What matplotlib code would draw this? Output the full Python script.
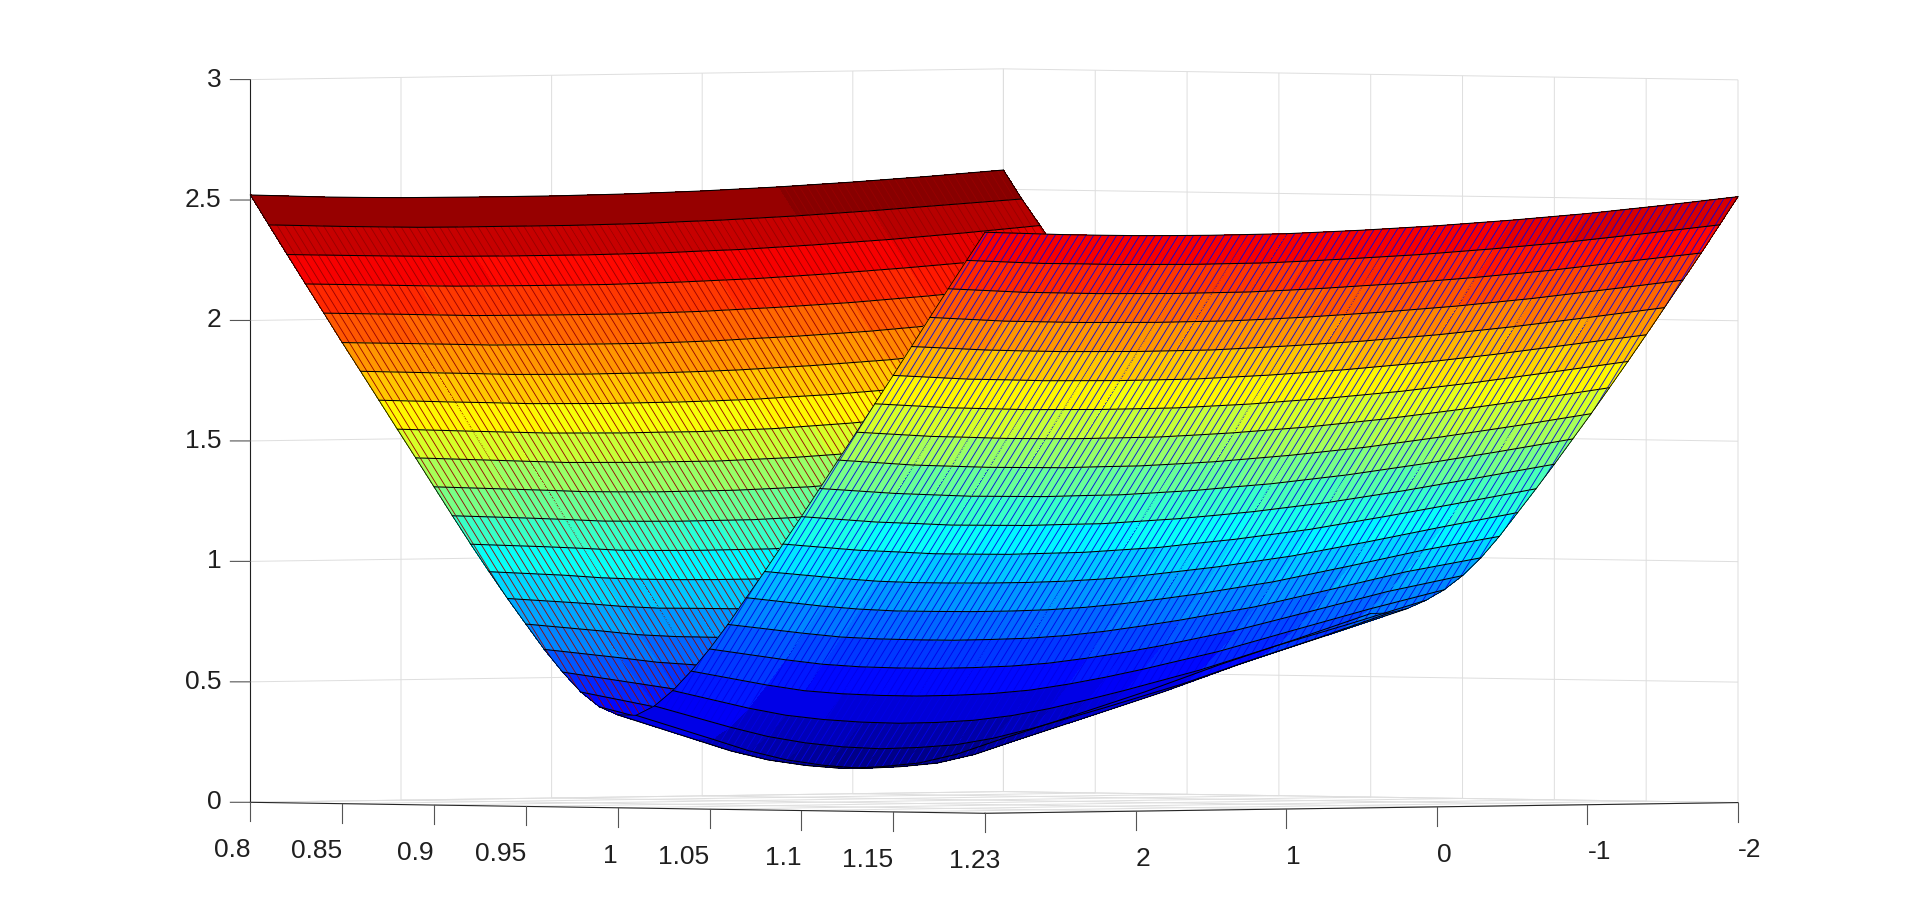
import numpy as np
import matplotlib
matplotlib.use("Agg")
import matplotlib.pyplot as plt
import matplotlib.hatch as mhatch
from matplotlib.colors import ListedColormap, Normalize
from matplotlib.path import Path
from matplotlib.ticker import NullFormatter
from mpl_toolkits.mplot3d import proj3d

# ---------- data ----------
x_nodes = [0.80,0.81,0.82,0.83,0.84,0.85,0.86,0.87,0.88,0.89,0.90,0.91,0.92,0.93,0.94,0.95,0.96,0.97,0.98,0.99,1.00,
           1.01,1.02,1.03,1.04,1.05,1.06,1.07,1.08,1.09,1.10,1.11,1.12,1.13,1.14,1.15,1.16,1.17,1.18,1.19,1.20]
y_nodes = [3, 2.5, 2.25, 2, 1.75, 1.5, 1.25, 1, 0.75, 0.5, 0.25, 0, -0.5, -1, -1.5, -2]

z_y3 = [2.521,2.398,2.276,2.155,2.035,1.914,1.796,1.677,1.558,1.440,1.321,1.202,1.085,.972,.862,.757,.653,.560,.478,.418,.386,
        .385,.425,.490,.572,.665,.768,.880,.990,1.105,1.220,1.338,1.457,1.574,1.693,1.812,1.933,2.055,2.175,2.294,2.412]
z_y250 = [2.508,2.387,2.267,2.146,2.026,1.905,1.785,1.665,1.545,1.426,1.307,1.188,1.070,.953,.838,.724,.614,.508,.411,.332,.282,
          .283,.333,.413,.510,.616,.727,.841,.957,1.075,1.193,1.313,1.432,1.552,1.672,1.792,1.914,2.035,2.156,2.277,2.398]
z_y225 = [2.504,2.383,2.263,2.141,2.021,1.900,1.780,1.660,1.539,1.419,1.300,1.180,1.061,.940,.823,.706,.593,.482,.380,.291,.230,
          .231,.292,.381,.484,.595,.709,.826,.943,1.066,1.185,1.305,1.425,1.546,1.666,1.787,1.908,2.030,2.151,2.273,2.393]
z_y200 = [2.501,2.379,2.259,2.137,2.016,1.895,1.774,1.654,1.533,1.412,1.292,1.171,1.051,.932,.813,.696,.580,.467,.360,.262,.190,
          .191,.263,.361,.469,.582,.699,.816,.935,1.056,1.176,1.297,1.418,1.539,1.660,1.781,1.903,2.025,2.146,2.268,2.389]
z_y175 = [2.500,2.378,2.258,2.136,2.015,1.894,1.772,1.652,1.531,1.410,1.289,1.168,1.048,.928,.810,.691,.573,.458,.347,.243,.165,
          .166,.244,.348,.460,.575,.693,.812,.931,1.052,1.173,1.294,1.415,1.536,1.658,1.779,1.901,2.023,2.144,2.266,2.387]
z_y150 = [2.499,2.378,2.257,2.135,2.014,1.893,1.771,1.650,1.529,1.408,1.287,1.166,1.046,.926,.806,.687,.569,.453,.340,.233,.150,
          .151,.234,.341,.455,.571,.689,.809,.929,1.049,1.170,1.291,1.412,1.534,1.656,1.777,1.899,2.021,2.142,2.264,2.386]
z_y125 = [2.499,2.378,2.257,2.135,2.014,1.893,1.772,1.651,1.530,1.409,1.288,1.167,1.047,.926,.807,.688,.570,.454,.341,.236,.155,
          .156,.237,.342,.456,.572,.690,.809,.929,1.051,1.172,1.293,1.414,1.535,1.657,1.778,1.900,2.022,2.143,2.265,2.387]
z_y100 = [2.499,2.378,2.257,2.135,2.014,1.893,1.772,1.652,1.530,1.409,1.289,1.168,1.048,.929,.809,.690,.574,.459,.348,.245,.168,
          .169,.246,.349,.461,.576,.693,.812,.932,1.053,1.173,1.294,1.415,1.536,1.658,1.779,1.901,2.023,2.144,2.266,2.388]
z_y075 = [2.501,2.380,2.259,2.138,2.017,1.896,1.775,1.655,1.534,1.414,1.294,1.174,1.055,.935,.816,.698,.584,.471,.365,.270,.202,
          .203,.271,.366,.473,.586,.702,.820,.939,1.061,1.181,1.301,1.421,1.542,1.664,1.785,1.907,2.028,2.149,2.271,2.393]
z_y050 = [2.503,2.382,2.261,2.141,2.020,1.900,1.779,1.659,1.538,1.419,1.299,1.181,1.062,.944,.827,.713,.600,.492,.391,.307,.253,
          .254,.308,.393,.495,.604,.717,.833,.950,1.069,1.189,1.308,1.428,1.549,1.670,1.791,1.913,2.034,2.155,2.277,2.398]
z_y025 = [2.507,2.387,2.266,2.146,2.026,1.907,1.786,1.667,1.547,1.428,1.310,1.193,1.075,.958,.844,.731,.622,.518,.425,.349,.302,
          .303,.350,.427,.522,.626,.737,.850,.966,1.084,1.201,1.320,1.439,1.559,1.680,1.800,1.921,2.042,2.163,2.284,2.405]
z_y000 = [2.511,2.391,2.270,2.151,2.032,1.913,1.793,1.674,1.556,1.437,1.320,1.204,1.088,.974,.862,.753,.647,.549,.462,.391,.351,
          .352,.393,.464,.553,.652,.759,.869,.982,1.098,1.214,1.331,1.450,1.569,1.689,1.809,1.929,2.050,2.170,2.291,2.412]
z_ym05 = [2.523,2.404,2.285,2.167,2.048,1.930,1.812,1.695,1.579,1.463,1.348,1.235,1.123,1.013,.906,.803,.705,.617,.540,.482,.450,
          .451,.484,.544,.622,.712,.810,.915,1.023,1.135,1.248,1.363,1.479,1.597,1.714,1.833,1.951,2.071,2.191,2.311,2.431]
z_ym10 = [2.539,2.421,2.303,2.187,2.070,1.954,1.839,1.724,1.611,1.498,1.386,1.276,1.169,1.065,.964,.868,.779,.700,.635,.586,.559,
          .560,.588,.639,.706,.787,.877,.975,1.077,1.184,1.292,1.404,1.517,1.632,1.747,1.864,1.980,2.098,2.216,2.335,2.454]
z_ym15 = [2.558,2.441,2.326,2.210,2.096,1.981,1.869,1.756,1.645,1.535,1.427,1.322,1.218,1.119,1.024,.935,.853,.781,.723,.681,.659,
          .660,.685,.728,.789,.863,.946,1.038,1.135,1.236,1.342,1.450,1.559,1.671,1.785,1.900,2.014,2.131,2.248,2.365,2.483]
z_ym20 = [2.580,2.461,2.352,2.240,2.130,2.020,1.910,1.800,1.690,1.580,1.470,1.365,1.260,1.160,1.070,.985,.915,.855,.810,.780,.762,
          .765,.785,.820,.865,.925,1.000,1.090,1.190,1.290,1.393,1.499,1.605,1.714,1.824,1.936,2.050,2.165,2.279,2.397,2.515]

x_ticks = [0.80, 0.85, 0.90, 0.95, 1.00, 1.05, 1.10, 1.15, 1.20]
x_tick_labels = ['0.8', '0.85', '0.9', '0.95', '1', '1.05', '1.1', '1.15', '1.23']
y_ticks = [2, 1, 0, -1, -2]
y_tick_labels = ['2', '1', '0', '-1', '-2']
z_ticks = [0, 0.5, 1, 1.5, 2, 2.5, 3]
z_tick_labels = ['0', '0.5', '1', '1.5', '2', '2.5', '3']

# ---------- style: slanted fine mesh hatching ----------
_run, _rise = 8, 13
_ts = sorted({k / _run for k in range(_run + 1)} | {k / _rise for k in range(_rise + 1)})
_segs = []
for a, b in zip(_ts[:-1], _ts[1:]):
    m = (a + b) / 2
    ox, oy = np.floor(m * _run), np.floor(m * _rise)
    _segs.append([(a * _run - ox, a * _rise - oy), (b * _run - ox, b * _rise - oy)])
_segs = np.array(_segs).reshape(-1, 2)


class _Slant(mhatch.HatchPatternBase):
    char = '/'
    mirror = False

    def __init__(self, hatch, density):
        self.num_lines = hatch.count(self.char)
        self.num_vertices = len(_segs) if self.num_lines else 0

    def set_vertices_and_codes(self, vertices, codes):
        v = _segs.copy()
        if self.mirror:
            v[:, 0] = 1 - v[:, 0]
        vertices[:] = v
        codes[0::2] = Path.MOVETO
        codes[1::2] = Path.LINETO


class _SlantBack(_Slant):
    char = '\\'
    mirror = True


mhatch._hatch_types = [_Slant, _SlantBack]

plt.rcParams['font.family'] = ['Liberation Sans', 'DejaVu Sans']
plt.rcParams['hatch.linewidth'] = 0.6
plt.rcParams['hatch.color'] = 'black'

_t = (np.arange(64) + 0.5) / 64
_r = np.clip(np.minimum(4 * _t - 1.5, -4 * _t + 4.5), 0, 1)
_g = np.clip(np.minimum(4 * _t - 0.5, -4 * _t + 3.5), 0, 1)
_b = np.clip(np.minimum(4 * _t + 0.5, -4 * _t + 2.5), 0, 1)
jet64 = ListedColormap(np.c_[_r, _g, _b])
norm = Normalize(0.15, 2.56)

# ---------- figure ----------
W, H = 1920, 913
TARGET_LEFT = (250.4, H - 802.3)
TARGET_RIGHT_X = 1738.0
fig = plt.figure(figsize=(W / 100, H / 100), dpi=100, facecolor='white')
ax = fig.add_axes([460 / W, 0, 1000 / W, 1000 / H], projection='3d', proj_type='ortho')
ax.computed_zorder = False
ax.patch.set_alpha(0)
ax.view_init(elev=0.837, azim=-44.29)
ax.set_box_aspect((1, 1, 723.1 / 1052.4))

Z = np.array([z_y3, z_y250, z_y225, z_y200, z_y175, z_y150, z_y125, z_y100, z_y075,
              z_y050, z_y025, z_y000, z_ym05, z_ym10, z_ym15, z_ym20]).T
X, Y = np.meshgrid(x_nodes, y_nodes, indexing='ij')
colors = jet64(norm(Z))
SPLIT = 20


def wing(rows, hatch, base_z):
    s = ax.plot_surface(X[rows], Y[rows], Z[rows], facecolors=colors[rows],
                        rstride=1, cstride=1, shade=False, linewidth=0, antialiased=False)
    s.set_hatch(hatch)
    s._hatch_color = (0, 0, 0, 1)
    s.set_zorder(base_z)
    for r in range(rows.start, rows.stop):
        ax.plot(X[r], Y[r], Z[r], color='black', lw=0.75, zorder=base_z + 0.5)
    for c in (0, -1):
        ax.plot(X[rows, c], Y[rows, c], Z[rows, c], color='black', lw=0.6, zorder=base_z + 0.5)


wing(slice(0, SPLIT + 1), '\\', 2)
wing(slice(SPLIT, len(x_nodes)), '/', 4)

X0, X1, Y0, Y1 = x_nodes[0], x_nodes[-1], y_nodes[0], y_nodes[-1]
ax.set_xlim(X0, X1)
ax.set_ylim(Y0, Y1)
ax.set_zlim(0, 3)
ax.set_xticks(x_ticks)
ax.set_yticks(y_ticks)
ax.set_zticks(z_ticks)

for axis in (ax.xaxis, ax.yaxis, ax.zaxis):
    axis.set_pane_color((1, 1, 1, 0))
    axis.pane.set_edgecolor((1, 1, 1, 0))
    axis.line.set_color('#262626')
    axis.line.set_linewidth(0.8)
    info = axis._axinfo
    info['grid'].update(color='#dedede', linewidth=0.7)
    info['tick'].update(inward_factor=0, outward_factor=0)
    axis.set_major_formatter(NullFormatter())
ax.zaxis.line.set_color((1, 1, 1, 0))
ax.grid(True)

# Axis furniture, placed in data units through the axes' own projection.
TICK_C = '#555555'
TEXT_C = '#1f1f1f'
FS = 19
TICK_DROP = 0.079    # z units, about 19 px below the floor edge
LABEL_DROP = 0.198   # z units, about 48 px below the floor edge
PX_X = (X1 - X0) / 734.6   # data units of x per screen px along the floor
SIDE_DX = PX_X / 2         # one px of leftward shift shared by x ...
SIDE_DY = (Y0 - Y1) / 753.0 / 2   # ... and y directions
LABEL_NUDGE_PX = {'1.23': 15}

labels = []
ax.plot([X0, X0], [Y0, Y0], [0, 3], color=TEXT_C, lw=0.8, zorder=1)
for t, lab in zip(x_ticks, x_tick_labels):
    ax.plot([t, t], [Y0, Y0], [0, -TICK_DROP], color=TICK_C, lw=0.8, zorder=1)
    labels.append((t + LABEL_NUDGE_PX.get(lab, 0) * PX_X, Y0, -LABEL_DROP, lab, 'right'))
for t, lab in zip(y_ticks, y_tick_labels):
    ax.plot([X1, X1], [t, t], [0, -TICK_DROP], color=TICK_C, lw=0.8, zorder=1)
    labels.append((X1, t, -LABEL_DROP, lab, 'left'))
for t, lab in zip(z_ticks, z_tick_labels):
    ax.plot([X0, X0 - 20 * SIDE_DX], [Y0, Y0 + 20 * SIDE_DY], [t, t], color=TICK_C, lw=0.8, zorder=1)
    labels.append((X0 - 29 * SIDE_DX, Y0 + 29 * SIDE_DY, t, lab, 'right'))


def to_px(x, y, z):
    px, py, _ = proj3d.proj_transform(x, y, z, ax.get_proj())
    return ax.transData.transform((px, py))


fig.canvas.draw()
pl, pr = to_px(X0, Y0, 0), to_px(X1, Y1, 0)
k = (TARGET_RIGHT_X - TARGET_LEFT[0]) / (pr[0] - pl[0])
b = ax.get_position().bounds
side = b[2] * W
nx, ny = (pl[0] - b[0] * W) / side, (pl[1] - b[1] * H) / side
new_side = side * k
left = TARGET_LEFT[0] - nx * new_side
bottom = TARGET_LEFT[1] - ny * new_side
ax.set_position([left / W, bottom / H, new_side / W, new_side / H])

fig.canvas.draw()
for x, y, z, lab, ha in labels:
    px, py = to_px(x, y, z)
    fig.text(px / W, py / H, lab, ha=ha, va='center', fontsize=FS, color=TEXT_C)

fig.savefig('out.png', dpi=100)
